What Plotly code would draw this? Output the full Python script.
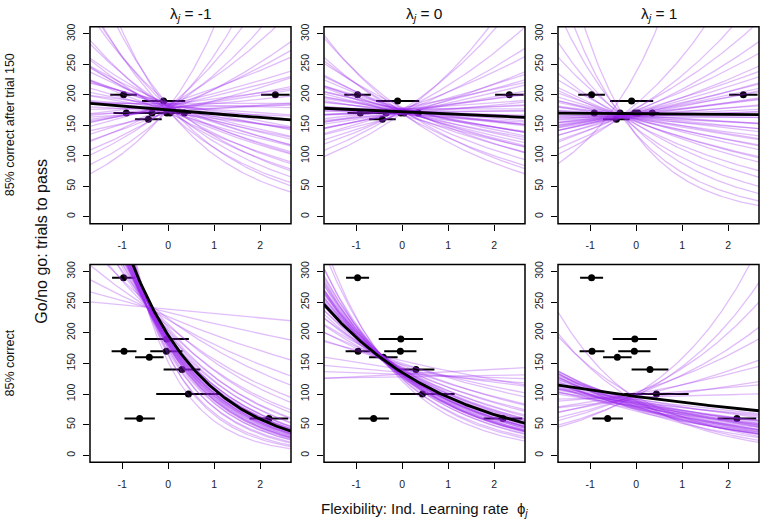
import numpy as np
import plotly.graph_objects as go

# ---------------- data ----------------
LAMBDA_LABELS = ["-1", "0", "1"]
ROW_LABELS = ["85% correct after trial 150", "85% correct"]
X_TICKS = [-1, 0, 1, 2]
X_TICK_TEXT = ["-1", "0", "1", "2"]
Y_TICKS = [0, 50, 100, 150, 200, 250, 300]

# observed birds (same in each lambda column)
TOP_PHI = [-0.97, -0.91, -0.43, -0.10, -0.35, -0.03, 0.04, 0.35, 2.33]
TOP_TRIALS = [200, 170, 160, 190, 170, 170, 170, 170, 200]
TOP_PHI_ERR = [0.29, 0.28, 0.29, 0.47, 0.30, 0.30, 0.30, 0.15, 0.31]

BOT_PHI = [-0.97, -0.96, -0.41, -0.03, -0.04, 0.30, 0.44, -0.62, 2.19]
BOT_TRIALS = [290, 170, 160, 190, 170, 140, 100, 60, 60]
BOT_PHI_ERR = [0.25, 0.27, 0.31, 0.48, 0.35, 0.40, 0.70, 0.33, 0.42]

# posterior mean curves: trials = y0 * exp(slope * phi)
MEAN_Y0_TOP = [175, 172, 169]
MEAN_SLOPE_TOP = [-0.036, -0.020, -0.003]
MEAN_Y0_BOT = [196, 135, 96]
MEAN_SLOPE_BOT = [-0.60, -0.354, -0.104]

# posterior sample curves (value at phi = 0, log-slope)
SLOPE_TOP_1 = [-0.55, -0.48, -0.42, -0.38, -0.34, -0.30, -0.27, -0.24, -0.21, -0.19, -0.17, -0.15,
               -0.13, -0.11, -0.09, -0.08, -0.06, -0.05, -0.04, -0.03, -0.02, 0.00, 0.01, 0.03,
               0.05, 0.07, 0.09, 0.11, 0.13, 0.16, 0.19, 0.23, 0.28, 0.34, 0.42, 0.55,
               -0.12, -0.07, -0.01, 0.04, -0.20, 0.10, -0.16, 0.02, -0.10, 0.06]
Y0_TOP_1 = [176, 183, 172, 180, 186, 174, 179, 171, 182, 177, 185, 173, 180, 175, 188, 178, 171, 183,
            176, 181, 174, 186, 179, 172, 184, 177, 181, 170, 185, 178, 173, 182, 176, 180, 174, 179,
            182, 176, 184, 178, 175, 183, 181, 174, 186, 177]

SLOPE_TOP_2 = [-0.33, -0.30, -0.26, -0.23, -0.20, -0.18, -0.16, -0.14, -0.12, -0.11, -0.10, -0.09,
               -0.08, -0.07, -0.06, -0.05, -0.04, -0.03, -0.02, -0.01, 0.00, 0.01, 0.02, 0.03,
               0.04, 0.05, 0.06, 0.08, 0.09, 0.11, 0.13, 0.15, 0.18, 0.22, 0.28, 0.32,
               -0.13, -0.06, -0.02, 0.02, 0.07, -0.09, 0.00, -0.04, 0.10, -0.15]
Y0_TOP_2 = [170, 176, 168, 173, 179, 171, 175, 167, 174, 178, 170, 176, 172, 169, 177, 173, 175, 168,
            174, 171, 177, 170, 173, 176, 169, 175, 172, 178, 170, 174, 168, 176, 171, 173, 175, 170,
            172, 175, 170, 174, 171, 176, 173, 169, 172, 174]

SLOPE_TOP_3 = [-0.75, -0.62, -0.50, -0.40, -0.32, -0.26, -0.21, -0.17, -0.14, -0.11, -0.09, -0.07,
               -0.05, -0.04, -0.03, -0.02, -0.01, 0.00, 0.01, 0.02, 0.03, 0.04, 0.05, 0.06,
               0.07, 0.08, 0.09, 0.10, 0.12, 0.14, 0.16, 0.19, 0.22, 0.27, 0.35, 0.59,
               -0.12, -0.06, 0.00, 0.05, 0.11, -0.18, -0.03, 0.08, -0.09, 0.02]
Y0_TOP_3 = [134, 135, 144, 145, 152, 151, 157, 155, 160, 158, 163, 160, 165, 161, 166, 162, 167, 163,
            167, 164, 168, 165, 169, 166, 170, 167, 171, 168, 173, 170, 175, 173, 178, 177, 185, 237,
            160, 164, 166, 168, 171, 156, 165, 170, 161, 167]

SLOPE_BOT_1 = [-1.00, -0.92, -0.86, -0.81, -0.77, -0.74, -0.72, -0.70, -0.68, -0.66, -0.65, -0.64,
               -0.63, -0.62, -0.61, -0.60, -0.59, -0.58, -0.57, -0.56, -0.55, -0.54, -0.52, -0.50,
               -0.48, -0.46, -0.44, -0.41, -0.38, -0.34, -0.30, -0.25, -0.20, -0.14, -0.08, -0.03,
               -0.71, -0.67, -0.63, -0.60, -0.58, -0.55, -0.69, -0.62, -0.57, -0.53]
Y0_BOT_1 = [152, 165, 163, 174, 169, 180, 174, 183, 177, 186, 180, 188, 182, 189, 183, 191, 185, 193,
            187, 194, 188, 196, 191, 200, 194, 203, 198, 208, 204, 214, 211, 223, 221, 226, 233, 238,
            181, 178, 190, 184, 195, 189, 186, 180, 192, 193]

SLOPE_BOT_2 = [-0.62, -0.57, -0.53, -0.50, -0.48, -0.46, -0.45, -0.44, -0.43, -0.42, -0.41, -0.40,
               -0.39, -0.38, -0.37, -0.36, -0.35, -0.34, -0.33, -0.32, -0.31, -0.30, -0.28, -0.26,
               -0.24, -0.22, -0.20, -0.17, -0.14, -0.11, -0.08, -0.05, -0.02, 0.01, 0.03, -0.45,
               -0.47, -0.43, -0.40, -0.38, -0.36, -0.33, -0.41, -0.44, -0.35, -0.39]
Y0_BOT_2 = [121, 126, 124, 130, 127, 133, 129, 134, 130, 136, 131, 137, 132, 138, 133, 139, 134, 140,
            135, 141, 136, 142, 139, 144, 141, 147, 143, 150, 148, 154, 140, 135, 132, 128, 132, 131,
            132, 128, 135, 131, 137, 140, 134, 127, 136, 133]

SLOPE_BOT_3 = [-0.35, -0.32, -0.30, -0.29, -0.28, -0.27, -0.26, -0.25, -0.24, -0.23, -0.22, -0.21,
               -0.20, -0.19, -0.18, -0.17, -0.16, -0.15, -0.14, -0.13, -0.12, -0.11, -0.10, -0.26,
               0.02, 0.06, 0.10, 0.14, 0.18, 0.23, 0.28, 0.34, 0.40, 0.46, -0.55, -0.48, -0.42,
               -0.31, -0.27, -0.24, -0.21, -0.18, -0.15, -0.28, -0.22]
Y0_BOT_3 = [74, 80, 77, 84, 79, 86, 76, 82, 88, 78, 85, 81, 90, 75, 83, 87, 79, 92, 84, 80, 88, 91, 86, 72,
            95, 98, 92, 100, 96, 103, 99, 101, 97, 100, 92, 88, 95,
            79, 83, 77, 86, 80, 84, 75, 89]

SAMPLES = [
    [(Y0_TOP_1, SLOPE_TOP_1), (Y0_TOP_2, SLOPE_TOP_2), (Y0_TOP_3, SLOPE_TOP_3)],
    [(Y0_BOT_1, SLOPE_BOT_1), (Y0_BOT_2, SLOPE_BOT_2), (Y0_BOT_3, SLOPE_BOT_3)],
]
MEANS = [(MEAN_Y0_TOP, MEAN_SLOPE_TOP), (MEAN_Y0_BOT, MEAN_SLOPE_BOT)]
POINTS = [(TOP_PHI, TOP_TRIALS, TOP_PHI_ERR), (BOT_PHI, BOT_TRIALS, BOT_PHI_ERR)]

# ---------------- layout geometry ----------------
W, H = 768, 524
X_RANGE = [-1.70, 2.67]
Y_RANGE = [-11.5, 311.5]
COL_PX = [(90, 291), (324, 525), (558, 759)]
ROW_PX = [(24, 222), (263, 462)]
PHI_GRID = np.linspace(X_RANGE[0], X_RANGE[1], 150)

LINE_COLOR = "rgba(155,40,240,0.30)"
FONT = "Liberation Sans, Arial, sans-serif"

fig = go.Figure()
layout = dict(
    width=W, height=H, margin=dict(l=0, r=0, t=0, b=0),
    paper_bgcolor="white", plot_bgcolor="white", showlegend=False,
    font=dict(family=FONT, color="#111"),
)
shapes = []
annotations = []

for r in range(2):
    for c in range(3):
        i = r * 3 + c + 1
        sfx = "" if i == 1 else str(i)
        xa, ya = "x" + sfx, "y" + sfx
        x0p, x1p = COL_PX[c]
        y0p, y1p = ROW_PX[r]
        layout["xaxis" + sfx] = dict(
            domain=[x0p / W, x1p / W], range=X_RANGE, anchor=ya,
            showgrid=False, zeroline=False, showline=False,
            ticks="outside", ticklen=6, tickwidth=1, tickcolor="black",
            tickvals=X_TICKS, ticktext=X_TICK_TEXT, ticklabelstandoff=6,
            tickfont=dict(size=10.5, color="#222", family=FONT),
        )
        layout["yaxis" + sfx] = dict(
            domain=[1 - y1p / H, 1 - y0p / H], range=Y_RANGE, anchor=xa,
            showgrid=False, zeroline=False, showline=False,
            ticks="outside", ticklen=6, tickwidth=1, tickcolor="black",
            tickvals=Y_TICKS, tickangle=-90, ticklabelstandoff=4,
            tickfont=dict(size=10.5, color="#222", family=FONT),
        )
        # observed points with horizontal error bars
        px, py, pe = POINTS[r]
        fig.add_trace(go.Scatter(
            x=px, y=py, mode="markers", xaxis=xa, yaxis=ya,
            marker=dict(size=7, color="black"),
            error_x=dict(type="data", array=pe, color="black", thickness=2, width=0),
            hoverinfo="skip",
        ))
        # posterior sample curves
        y0s, slopes = SAMPLES[r][c]
        for y0, b in zip(y0s, slopes):
            fig.add_trace(go.Scatter(
                x=PHI_GRID, y=y0 * np.exp(b * PHI_GRID), mode="lines",
                xaxis=xa, yaxis=ya, line=dict(color=LINE_COLOR, width=1.3),
                hoverinfo="skip",
            ))
        # posterior mean curve
        my0, mb = MEANS[r][0][c], MEANS[r][1][c]
        fig.add_trace(go.Scatter(
            x=PHI_GRID, y=my0 * np.exp(mb * PHI_GRID), mode="lines",
            xaxis=xa, yaxis=ya, line=dict(color="black", width=2.8),
            hoverinfo="skip",
        ))
        shapes.append(dict(
            type="rect", xref=xa + " domain", yref=ya + " domain",
            x0=0, x1=1, y0=0, y1=1, line=dict(color="black", width=1.5),
        ))

# column titles
for c in range(3):
    x0p, x1p = COL_PX[c]
    annotations.append(dict(
        text="λ<sub><i>j</i></sub> = " + LAMBDA_LABELS[c], x=(x0p + x1p) / 2 / W, y=1 - 12 / H,
        xref="paper", yref="paper", showarrow=False, xanchor="center", yanchor="middle",
        font=dict(size=15.5, family=FONT, color="#111"),
    ))
# row labels
for r in range(2):
    y0p, y1p = ROW_PX[r]
    annotations.append(dict(
        text=ROW_LABELS[r], x=10 / W, y=1 - (y0p + y1p) / 2 / H, textangle=-90,
        xref="paper", yref="paper", showarrow=False, xanchor="center", yanchor="middle",
        font=dict(size=12.5, family=FONT, color="#111"),
    ))
annotations.append(dict(
    text="Go/no go: trials to pass", x=42 / W, y=1 - 240 / H, textangle=-90,
    xref="paper", yref="paper", showarrow=False, xanchor="center", yanchor="middle",
    font=dict(size=16, family=FONT, color="#111"),
))
annotations.append(dict(
    text="Flexibility: Ind. Learning rate  ϕ<sub><i>j</i></sub>", x=424 / W, y=1 - 509 / H,
    xref="paper", yref="paper", showarrow=False, xanchor="center", yanchor="middle",
    font=dict(size=15, family=FONT, color="#111"),
))

layout["shapes"] = shapes
layout["annotations"] = annotations
fig.update_layout(**layout)
fig.write_html("out.html")
